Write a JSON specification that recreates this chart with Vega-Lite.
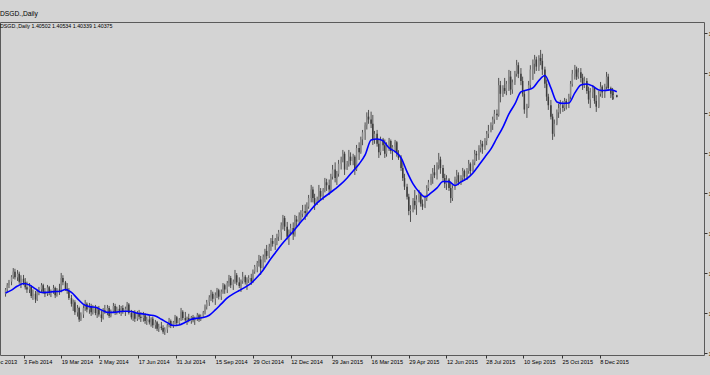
{
"$schema": "https://vega.github.io/schema/vega-lite/v6.json",
"width": 704, "height": 333,
"autosize": {"type": "none"},
"padding": {"left": 0, "top": 22, "right": 6, "bottom": 20},
"background": "#d4d4d4",
"title": {"text": "DSGD.,Daily", "subtitle": "DSGD.,Daily  1.40502 1.40534 1.40339 1.40375", "anchor": "start", "frame": "group", "font": "Liberation Sans", "subtitleFont": "Liberation Sans", "fontSize": 6.7, "subtitleFontSize": 5.3, "fontWeight": "normal", "color": "#000000", "subtitleColor": "#000000", "offset": -7, "subtitlePadding": 6, "dx": 0},
"data": {"values": [
{"d":"2014-01-13","o":1.2660,"h":1.2700,"l":1.2640,"c":1.2690,"m":1.2665},
{"d":"2014-01-15","o":1.2690,"h":1.2735,"l":1.2670,"c":1.2720},
{"d":"2014-01-17","o":1.2720,"h":1.2757,"l":1.2700,"c":1.2745},
{"d":"2014-01-20","o":1.2745,"h":1.2790,"l":1.2720,"c":1.2780,"m":1.2686},
{"d":"2014-01-22","o":1.2780,"h":1.2840,"l":1.2765,"c":1.2815},
{"d":"2014-01-24","o":1.2815,"h":1.2835,"l":1.2760,"c":1.2775},
{"d":"2014-01-27","o":1.2775,"h":1.2826,"l":1.2750,"c":1.2800,"m":1.2714},
{"d":"2014-01-29","o":1.2800,"h":1.2815,"l":1.2730,"c":1.2745},
{"d":"2014-01-31","o":1.2745,"h":1.2790,"l":1.2700,"c":1.2765},
{"d":"2014-02-03","o":1.2765,"h":1.2792,"l":1.2720,"c":1.2740,"m":1.2732},
{"d":"2014-02-05","o":1.2740,"h":1.2770,"l":1.2690,"c":1.2705},
{"d":"2014-02-07","o":1.2705,"h":1.2745,"l":1.2666,"c":1.2690},
{"d":"2014-02-10","o":1.2690,"h":1.2735,"l":1.2665,"c":1.2710,"m":1.2722},
{"d":"2014-02-12","o":1.2710,"h":1.2720,"l":1.2630,"c":1.2645},
{"d":"2014-02-14","o":1.2645,"h":1.2690,"l":1.2617,"c":1.2660},
{"d":"2014-02-17","o":1.2660,"h":1.2680,"l":1.2596,"c":1.2620,"m":1.2694},
{"d":"2014-02-19","o":1.2620,"h":1.2690,"l":1.2610,"c":1.2675},
{"d":"2014-02-21","o":1.2675,"h":1.2708,"l":1.2650,"c":1.2690},
{"d":"2014-02-24","o":1.2690,"h":1.2735,"l":1.2670,"c":1.2720,"m":1.2669},
{"d":"2014-02-26","o":1.2720,"h":1.2730,"l":1.2660,"c":1.2675},
{"d":"2014-02-28","o":1.2675,"h":1.2700,"l":1.2637,"c":1.2660},
{"d":"2014-03-03","o":1.2660,"h":1.2722,"l":1.2645,"c":1.2705,"m":1.2670},
{"d":"2014-03-05","o":1.2705,"h":1.2715,"l":1.2650,"c":1.2665},
{"d":"2014-03-07","o":1.2665,"h":1.2690,"l":1.2637,"c":1.2680},
{"d":"2014-03-10","o":1.2680,"h":1.2722,"l":1.2660,"c":1.2700,"m":1.2675},
{"d":"2014-03-12","o":1.2700,"h":1.2710,"l":1.2630,"c":1.2650},
{"d":"2014-03-14","o":1.2650,"h":1.2700,"l":1.2640,"c":1.2690},
{"d":"2014-03-17","o":1.2690,"h":1.2730,"l":1.2652,"c":1.2680,"m":1.2676},
{"d":"2014-03-19","o":1.2680,"h":1.2806,"l":1.2670,"c":1.2770},
{"d":"2014-03-21","o":1.2770,"h":1.2790,"l":1.2720,"c":1.2740},
{"d":"2014-03-24","o":1.2740,"h":1.2750,"l":1.2680,"c":1.2695,"m":1.2690},
{"d":"2014-03-26","o":1.2695,"h":1.2735,"l":1.2660,"c":1.2680},
{"d":"2014-03-28","o":1.2680,"h":1.2700,"l":1.2617,"c":1.2630},
{"d":"2014-03-31","o":1.2630,"h":1.2652,"l":1.2570,"c":1.2590,"m":1.2670},
{"d":"2014-04-02","o":1.2590,"h":1.2620,"l":1.2540,"c":1.2600},
{"d":"2014-04-04","o":1.2600,"h":1.2615,"l":1.2512,"c":1.2530},
{"d":"2014-04-07","o":1.2530,"h":1.2582,"l":1.2500,"c":1.2560,"m":1.2626},
{"d":"2014-04-09","o":1.2560,"h":1.2570,"l":1.2463,"c":1.2480},
{"d":"2014-04-11","o":1.2480,"h":1.2530,"l":1.2470,"c":1.2515},
{"d":"2014-04-14","o":1.2515,"h":1.2580,"l":1.2491,"c":1.2560,"m":1.2586},
{"d":"2014-04-16","o":1.2560,"h":1.2617,"l":1.2540,"c":1.2590},
{"d":"2014-04-18","o":1.2590,"h":1.2600,"l":1.2530,"c":1.2550},
{"d":"2014-04-21","o":1.2550,"h":1.2596,"l":1.2520,"c":1.2575,"m":1.2570},
{"d":"2014-04-23","o":1.2575,"h":1.2590,"l":1.2505,"c":1.2530},
{"d":"2014-04-25","o":1.2530,"h":1.2580,"l":1.2515,"c":1.2560},
{"d":"2014-04-28","o":1.2560,"h":1.2582,"l":1.2510,"c":1.2525,"m":1.2566},
{"d":"2014-04-30","o":1.2525,"h":1.2570,"l":1.2491,"c":1.2550},
{"d":"2014-05-02","o":1.2550,"h":1.2575,"l":1.2500,"c":1.2515},
{"d":"2014-05-05","o":1.2515,"h":1.2540,"l":1.2463,"c":1.2490,"m":1.2547},
{"d":"2014-05-07","o":1.2490,"h":1.2560,"l":1.2480,"c":1.2545},
{"d":"2014-05-09","o":1.2545,"h":1.2582,"l":1.2520,"c":1.2530},
{"d":"2014-05-12","o":1.2530,"h":1.2582,"l":1.2510,"c":1.2560,"m":1.2530},
{"d":"2014-05-14","o":1.2560,"h":1.2575,"l":1.2491,"c":1.2505},
{"d":"2014-05-16","o":1.2505,"h":1.2550,"l":1.2495,"c":1.2540},
{"d":"2014-05-19","o":1.2540,"h":1.2596,"l":1.2525,"c":1.2575,"m":1.2530},
{"d":"2014-05-21","o":1.2575,"h":1.2590,"l":1.2512,"c":1.2530},
{"d":"2014-05-23","o":1.2530,"h":1.2570,"l":1.2515,"c":1.2555},
{"d":"2014-05-26","o":1.2555,"h":1.2582,"l":1.2520,"c":1.2540,"m":1.2535},
{"d":"2014-05-28","o":1.2540,"h":1.2575,"l":1.2505,"c":1.2560},
{"d":"2014-05-30","o":1.2560,"h":1.2580,"l":1.2520,"c":1.2535},
{"d":"2014-06-02","o":1.2535,"h":1.2570,"l":1.2505,"c":1.2555,"m":1.2538},
{"d":"2014-06-04","o":1.2555,"h":1.2603,"l":1.2540,"c":1.2585},
{"d":"2014-06-06","o":1.2585,"h":1.2595,"l":1.2515,"c":1.2525},
{"d":"2014-06-09","o":1.2525,"h":1.2547,"l":1.2480,"c":1.2495,"m":1.2536},
{"d":"2014-06-11","o":1.2495,"h":1.2540,"l":1.2470,"c":1.2530},
{"d":"2014-06-13","o":1.2530,"h":1.2545,"l":1.2463,"c":1.2485},
{"d":"2014-06-16","o":1.2485,"h":1.2540,"l":1.2470,"c":1.2525,"m":1.2524},
{"d":"2014-06-18","o":1.2525,"h":1.2547,"l":1.2480,"c":1.2500},
{"d":"2014-06-20","o":1.2500,"h":1.2530,"l":1.2463,"c":1.2490},
{"d":"2014-06-23","o":1.2490,"h":1.2533,"l":1.2465,"c":1.2510,"m":1.2519},
{"d":"2014-06-25","o":1.2510,"h":1.2525,"l":1.2450,"c":1.2470},
{"d":"2014-06-27","o":1.2470,"h":1.2500,"l":1.2442,"c":1.2480},
{"d":"2014-06-30","o":1.2480,"h":1.2512,"l":1.2445,"c":1.2460,"m":1.2512},
{"d":"2014-07-02","o":1.2460,"h":1.2495,"l":1.2430,"c":1.2485},
{"d":"2014-07-04","o":1.2485,"h":1.2500,"l":1.2421,"c":1.2440},
{"d":"2014-07-07","o":1.2440,"h":1.2477,"l":1.2415,"c":1.2460,"m":1.2505},
{"d":"2014-07-09","o":1.2460,"h":1.2470,"l":1.2400,"c":1.2415},
{"d":"2014-07-11","o":1.2415,"h":1.2450,"l":1.2393,"c":1.2430},
{"d":"2014-07-14","o":1.2430,"h":1.2463,"l":1.2405,"c":1.2420,"m":1.2482},
{"d":"2014-07-16","o":1.2420,"h":1.2440,"l":1.2380,"c":1.2395},
{"d":"2014-07-18","o":1.2395,"h":1.2425,"l":1.2372,"c":1.2410},
{"d":"2014-07-21","o":1.2410,"h":1.2450,"l":1.2386,"c":1.2440,"m":1.2458},
{"d":"2014-07-23","o":1.2440,"h":1.2491,"l":1.2425,"c":1.2470},
{"d":"2014-07-25","o":1.2470,"h":1.2480,"l":1.2420,"c":1.2435},
{"d":"2014-07-28","o":1.2435,"h":1.2470,"l":1.2421,"c":1.2460,"m":1.2438},
{"d":"2014-07-30","o":1.2460,"h":1.2512,"l":1.2445,"c":1.2495},
{"d":"2014-08-01","o":1.2495,"h":1.2505,"l":1.2440,"c":1.2455},
{"d":"2014-08-04","o":1.2455,"h":1.2490,"l":1.2442,"c":1.2480,"m":1.2442},
{"d":"2014-08-06","o":1.2480,"h":1.2561,"l":1.2470,"c":1.2535},
{"d":"2014-08-08","o":1.2535,"h":1.2545,"l":1.2475,"c":1.2490},
{"d":"2014-08-11","o":1.2490,"h":1.2533,"l":1.2465,"c":1.2475,"m":1.2461},
{"d":"2014-08-13","o":1.2475,"h":1.2500,"l":1.2442,"c":1.2490},
{"d":"2014-08-15","o":1.2490,"h":1.2520,"l":1.2460,"c":1.2470},
{"d":"2014-08-18","o":1.2470,"h":1.2505,"l":1.2450,"c":1.2495,"m":1.2481},
{"d":"2014-08-20","o":1.2495,"h":1.2512,"l":1.2460,"c":1.2475},
{"d":"2014-08-22","o":1.2475,"h":1.2500,"l":1.2442,"c":1.2485},
{"d":"2014-08-25","o":1.2485,"h":1.2526,"l":1.2470,"c":1.2510,"m":1.2489},
{"d":"2014-08-27","o":1.2510,"h":1.2520,"l":1.2463,"c":1.2480},
{"d":"2014-08-29","o":1.2480,"h":1.2515,"l":1.2470,"c":1.2500},
{"d":"2014-09-01","o":1.2500,"h":1.2540,"l":1.2491,"c":1.2530,"m":1.2494},
{"d":"2014-09-03","o":1.2530,"h":1.2585,"l":1.2515,"c":1.2570},
{"d":"2014-09-05","o":1.2570,"h":1.2617,"l":1.2550,"c":1.2600},
{"d":"2014-09-08","o":1.2600,"h":1.2650,"l":1.2575,"c":1.2635,"m":1.2510},
{"d":"2014-09-10","o":1.2635,"h":1.2687,"l":1.2610,"c":1.2660},
{"d":"2014-09-12","o":1.2660,"h":1.2675,"l":1.2600,"c":1.2625},
{"d":"2014-09-15","o":1.2625,"h":1.2670,"l":1.2582,"c":1.2650,"m":1.2547},
{"d":"2014-09-17","o":1.2650,"h":1.2701,"l":1.2630,"c":1.2685},
{"d":"2014-09-19","o":1.2685,"h":1.2695,"l":1.2620,"c":1.2640},
{"d":"2014-09-22","o":1.2640,"h":1.2690,"l":1.2617,"c":1.2675,"m":1.2589},
{"d":"2014-09-24","o":1.2675,"h":1.2735,"l":1.2660,"c":1.2720},
{"d":"2014-09-26","o":1.2720,"h":1.2730,"l":1.2660,"c":1.2690},
{"d":"2014-09-29","o":1.2690,"h":1.2750,"l":1.2665,"c":1.2735,"m":1.2631},
{"d":"2014-10-01","o":1.2735,"h":1.2792,"l":1.2710,"c":1.2770},
{"d":"2014-10-03","o":1.2770,"h":1.2785,"l":1.2700,"c":1.2720},
{"d":"2014-10-06","o":1.2720,"h":1.2760,"l":1.2687,"c":1.2745,"m":1.2659},
{"d":"2014-10-08","o":1.2745,"h":1.2827,"l":1.2730,"c":1.2790},
{"d":"2014-10-10","o":1.2790,"h":1.2805,"l":1.2720,"c":1.2740},
{"d":"2014-10-13","o":1.2740,"h":1.2775,"l":1.2700,"c":1.2715,"m":1.2683},
{"d":"2014-10-15","o":1.2715,"h":1.2760,"l":1.2673,"c":1.2750},
{"d":"2014-10-17","o":1.2750,"h":1.2813,"l":1.2730,"c":1.2780},
{"d":"2014-10-20","o":1.2780,"h":1.2792,"l":1.2725,"c":1.2740,"m":1.2707},
{"d":"2014-10-22","o":1.2740,"h":1.2775,"l":1.2687,"c":1.2760},
{"d":"2014-10-24","o":1.2760,"h":1.2790,"l":1.2735,"c":1.2770},
{"d":"2014-10-27","o":1.2770,"h":1.2800,"l":1.2722,"c":1.2745,"m":1.2735},
{"d":"2014-10-29","o":1.2745,"h":1.2830,"l":1.2735,"c":1.2815},
{"d":"2014-10-31","o":1.2815,"h":1.2862,"l":1.2800,"c":1.2850},
{"d":"2014-11-03","o":1.2850,"h":1.2890,"l":1.2810,"c":1.2875,"m":1.2777},
{"d":"2014-11-05","o":1.2875,"h":1.2932,"l":1.2850,"c":1.2900},
{"d":"2014-11-07","o":1.2900,"h":1.2925,"l":1.2792,"c":1.2840},
{"d":"2014-11-10","o":1.2840,"h":1.2935,"l":1.2830,"c":1.2920,"m":1.2827},
{"d":"2014-11-12","o":1.2920,"h":1.2975,"l":1.2880,"c":1.2960},
{"d":"2014-11-14","o":1.2960,"h":1.3002,"l":1.2900,"c":1.2925},
{"d":"2014-11-17","o":1.2925,"h":1.3010,"l":1.2910,"c":1.2990,"m":1.2890},
{"d":"2014-11-19","o":1.2990,"h":1.3050,"l":1.2960,"c":1.3030},
{"d":"2014-11-21","o":1.3030,"h":1.3072,"l":1.2990,"c":1.3010},
{"d":"2014-11-24","o":1.3010,"h":1.3050,"l":1.2967,"c":1.3040,"m":1.2946},
{"d":"2014-11-26","o":1.3040,"h":1.3080,"l":1.3000,"c":1.3060},
{"d":"2014-11-28","o":1.3060,"h":1.3107,"l":1.3030,"c":1.3090},
{"d":"2014-12-01","o":1.3090,"h":1.3160,"l":1.3037,"c":1.3140,"m":1.3002},
{"d":"2014-12-03","o":1.3140,"h":1.3212,"l":1.3110,"c":1.3190},
{"d":"2014-12-05","o":1.3190,"h":1.3205,"l":1.3100,"c":1.3130},
{"d":"2014-12-08","o":1.3130,"h":1.3163,"l":1.3040,"c":1.3060,"m":1.3051},
{"d":"2014-12-10","o":1.3060,"h":1.3110,"l":1.3002,"c":1.3095},
{"d":"2014-12-12","o":1.3095,"h":1.3150,"l":1.3070,"c":1.3120},
{"d":"2014-12-15","o":1.3120,"h":1.3160,"l":1.3037,"c":1.3075,"m":1.3096},
{"d":"2014-12-17","o":1.3075,"h":1.3212,"l":1.3060,"c":1.3180},
{"d":"2014-12-19","o":1.3180,"h":1.3205,"l":1.3130,"c":1.3165},
{"d":"2014-12-22","o":1.3165,"h":1.3230,"l":1.3140,"c":1.3210,"m":1.3149},
{"d":"2014-12-24","o":1.3210,"h":1.3245,"l":1.3170,"c":1.3220},
{"d":"2014-12-26","o":1.3220,"h":1.3282,"l":1.3195,"c":1.3240},
{"d":"2014-12-29","o":1.3240,"h":1.3285,"l":1.3177,"c":1.3225,"m":1.3198},
{"d":"2014-12-31","o":1.3225,"h":1.3300,"l":1.3200,"c":1.3270},
{"d":"2015-01-02","o":1.3270,"h":1.3352,"l":1.3255,"c":1.3330},
{"d":"2015-01-05","o":1.3330,"h":1.3422,"l":1.3300,"c":1.3390,"m":1.3250},
{"d":"2015-01-07","o":1.3390,"h":1.3410,"l":1.3300,"c":1.3330},
{"d":"2015-01-09","o":1.3330,"h":1.3360,"l":1.3247,"c":1.3290},
{"d":"2015-01-12","o":1.3290,"h":1.3340,"l":1.3282,"c":1.3320,"m":1.3296},
{"d":"2015-01-14","o":1.3320,"h":1.3422,"l":1.3300,"c":1.3380},
{"d":"2015-01-16","o":1.3380,"h":1.3400,"l":1.3310,"c":1.3340},
{"d":"2015-01-19","o":1.3340,"h":1.3400,"l":1.3317,"c":1.3390,"m":1.3331},
{"d":"2015-01-21","o":1.3390,"h":1.3471,"l":1.3370,"c":1.3440},
{"d":"2015-01-23","o":1.3440,"h":1.3465,"l":1.3380,"c":1.3420},
{"d":"2015-01-26","o":1.3420,"h":1.3460,"l":1.3352,"c":1.3390,"m":1.3362},
{"d":"2015-01-28","o":1.3390,"h":1.3500,"l":1.3370,"c":1.3480},
{"d":"2015-01-30","o":1.3480,"h":1.3562,"l":1.3460,"c":1.3530},
{"d":"2015-02-02","o":1.3530,"h":1.3580,"l":1.3440,"c":1.3470,"m":1.3394},
{"d":"2015-02-04","o":1.3470,"h":1.3520,"l":1.3422,"c":1.3500},
{"d":"2015-02-06","o":1.3500,"h":1.3597,"l":1.3480,"c":1.3570},
{"d":"2015-02-09","o":1.3570,"h":1.3620,"l":1.3530,"c":1.3600,"m":1.3429},
{"d":"2015-02-11","o":1.3600,"h":1.3667,"l":1.3580,"c":1.3640},
{"d":"2015-02-13","o":1.3640,"h":1.3655,"l":1.3492,"c":1.3530},
{"d":"2015-02-16","o":1.3530,"h":1.3590,"l":1.3527,"c":1.3570,"m":1.3471},
{"d":"2015-02-18","o":1.3570,"h":1.3667,"l":1.3550,"c":1.3620},
{"d":"2015-02-20","o":1.3620,"h":1.3650,"l":1.3560,"c":1.3590},
{"d":"2015-02-23","o":1.3590,"h":1.3640,"l":1.3560,"c":1.3620,"m":1.3520},
{"d":"2015-02-25","o":1.3620,"h":1.3630,"l":1.3492,"c":1.3530},
{"d":"2015-02-27","o":1.3530,"h":1.3702,"l":1.3520,"c":1.3680},
{"d":"2015-03-02","o":1.3680,"h":1.3720,"l":1.3597,"c":1.3650,"m":1.3569},
{"d":"2015-03-04","o":1.3650,"h":1.3760,"l":1.3640,"c":1.3740},
{"d":"2015-03-06","o":1.3740,"h":1.3807,"l":1.3700,"c":1.3790},
{"d":"2015-03-09","o":1.3790,"h":1.3860,"l":1.3737,"c":1.3840,"m":1.3632},
{"d":"2015-03-11","o":1.3840,"h":1.3930,"l":1.3810,"c":1.3900},
{"d":"2015-03-13","o":1.3900,"h":1.3947,"l":1.3850,"c":1.3880},
{"d":"2015-03-16","o":1.3880,"h":1.3935,"l":1.3820,"c":1.3850,"m":1.3737},
{"d":"2015-03-18","o":1.3850,"h":1.3912,"l":1.3702,"c":1.3740},
{"d":"2015-03-20","o":1.3740,"h":1.3800,"l":1.3710,"c":1.3780},
{"d":"2015-03-23","o":1.3780,"h":1.3807,"l":1.3690,"c":1.3710,"m":1.3744},
{"d":"2015-03-25","o":1.3710,"h":1.3740,"l":1.3611,"c":1.3650},
{"d":"2015-03-27","o":1.3650,"h":1.3760,"l":1.3630,"c":1.3740},
{"d":"2015-03-30","o":1.3740,"h":1.3751,"l":1.3660,"c":1.3700,"m":1.3730},
{"d":"2015-04-01","o":1.3700,"h":1.3740,"l":1.3611,"c":1.3640},
{"d":"2015-04-03","o":1.3640,"h":1.3720,"l":1.3620,"c":1.3700},
{"d":"2015-04-06","o":1.3700,"h":1.3751,"l":1.3660,"c":1.3730,"m":1.3681},
{"d":"2015-04-08","o":1.3730,"h":1.3740,"l":1.3640,"c":1.3660},
{"d":"2015-04-10","o":1.3660,"h":1.3700,"l":1.3597,"c":1.3690},
{"d":"2015-04-13","o":1.3690,"h":1.3737,"l":1.3650,"c":1.3720,"m":1.3655},
{"d":"2015-04-15","o":1.3720,"h":1.3730,"l":1.3620,"c":1.3640},
{"d":"2015-04-17","o":1.3640,"h":1.3665,"l":1.3597,"c":1.3610},
{"d":"2015-04-20","o":1.3610,"h":1.3630,"l":1.3520,"c":1.3540,"m":1.3611},
{"d":"2015-04-22","o":1.3540,"h":1.3580,"l":1.3450,"c":1.3470},
{"d":"2015-04-24","o":1.3470,"h":1.3500,"l":1.3387,"c":1.3410},
{"d":"2015-04-27","o":1.3410,"h":1.3430,"l":1.3320,"c":1.3340,"m":1.3513},
{"d":"2015-04-29","o":1.3340,"h":1.3360,"l":1.3210,"c":1.3240},
{"d":"2015-05-01","o":1.3240,"h":1.3280,"l":1.3163,"c":1.3250},
{"d":"2015-05-04","o":1.3250,"h":1.3330,"l":1.3230,"c":1.3310,"m":1.3429},
{"d":"2015-05-06","o":1.3310,"h":1.3387,"l":1.3250,"c":1.3280},
{"d":"2015-05-08","o":1.3280,"h":1.3350,"l":1.3212,"c":1.3320},
{"d":"2015-05-11","o":1.3320,"h":1.3387,"l":1.3300,"c":1.3360,"m":1.3373},
{"d":"2015-05-13","o":1.3360,"h":1.3370,"l":1.3270,"c":1.3290},
{"d":"2015-05-15","o":1.3290,"h":1.3320,"l":1.3247,"c":1.3270},
{"d":"2015-05-18","o":1.3270,"h":1.3350,"l":1.3260,"c":1.3330,"m":1.3338},
{"d":"2015-05-20","o":1.3330,"h":1.3420,"l":1.3310,"c":1.3400},
{"d":"2015-05-22","o":1.3400,"h":1.3457,"l":1.3380,"c":1.3440},
{"d":"2015-05-25","o":1.3440,"h":1.3500,"l":1.3420,"c":1.3480,"m":1.3366},
{"d":"2015-05-27","o":1.3480,"h":1.3540,"l":1.3430,"c":1.3510},
{"d":"2015-05-29","o":1.3510,"h":1.3562,"l":1.3470,"c":1.3490},
{"d":"2015-06-01","o":1.3490,"h":1.3580,"l":1.3460,"c":1.3560,"m":1.3401},
{"d":"2015-06-03","o":1.3560,"h":1.3646,"l":1.3530,"c":1.3600},
{"d":"2015-06-05","o":1.3600,"h":1.3620,"l":1.3500,"c":1.3540},
{"d":"2015-06-08","o":1.3540,"h":1.3562,"l":1.3450,"c":1.3470,"m":1.3446},
{"d":"2015-06-10","o":1.3470,"h":1.3500,"l":1.3400,"c":1.3430},
{"d":"2015-06-12","o":1.3430,"h":1.3490,"l":1.3387,"c":1.3460},
{"d":"2015-06-15","o":1.3460,"h":1.3470,"l":1.3380,"c":1.3400,"m":1.3445},
{"d":"2015-06-17","o":1.3400,"h":1.3440,"l":1.3296,"c":1.3330},
{"d":"2015-06-19","o":1.3330,"h":1.3420,"l":1.3310,"c":1.3400},
{"d":"2015-06-22","o":1.3400,"h":1.3480,"l":1.3387,"c":1.3460,"m":1.3418},
{"d":"2015-06-24","o":1.3460,"h":1.3527,"l":1.3430,"c":1.3490},
{"d":"2015-06-26","o":1.3490,"h":1.3510,"l":1.3420,"c":1.3440},
{"d":"2015-06-29","o":1.3440,"h":1.3490,"l":1.3422,"c":1.3470,"m":1.3443},
{"d":"2015-07-01","o":1.3470,"h":1.3541,"l":1.3450,"c":1.3520},
{"d":"2015-07-03","o":1.3520,"h":1.3530,"l":1.3450,"c":1.3480},
{"d":"2015-07-06","o":1.3480,"h":1.3540,"l":1.3457,"c":1.3520,"m":1.3467},
{"d":"2015-07-08","o":1.3520,"h":1.3597,"l":1.3500,"c":1.3570},
{"d":"2015-07-10","o":1.3570,"h":1.3580,"l":1.3490,"c":1.3520},
{"d":"2015-07-13","o":1.3520,"h":1.3600,"l":1.3510,"c":1.3580,"m":1.3506},
{"d":"2015-07-15","o":1.3580,"h":1.3667,"l":1.3560,"c":1.3640},
{"d":"2015-07-17","o":1.3640,"h":1.3660,"l":1.3590,"c":1.3630},
{"d":"2015-07-20","o":1.3630,"h":1.3700,"l":1.3597,"c":1.3680,"m":1.3562},
{"d":"2015-07-22","o":1.3680,"h":1.3737,"l":1.3650,"c":1.3710},
{"d":"2015-07-24","o":1.3710,"h":1.3730,"l":1.3640,"c":1.3690},
{"d":"2015-07-27","o":1.3690,"h":1.3750,"l":1.3667,"c":1.3730,"m":1.3618},
{"d":"2015-07-29","o":1.3730,"h":1.3800,"l":1.3700,"c":1.3780},
{"d":"2015-07-31","o":1.3780,"h":1.3842,"l":1.3750,"c":1.3800},
{"d":"2015-08-03","o":1.3800,"h":1.3860,"l":1.3790,"c":1.3840,"m":1.3674},
{"d":"2015-08-05","o":1.3840,"h":1.3900,"l":1.3807,"c":1.3880},
{"d":"2015-08-07","o":1.3880,"h":1.3947,"l":1.3850,"c":1.3920},
{"d":"2015-08-10","o":1.3920,"h":1.3950,"l":1.3877,"c":1.3910,"m":1.3751},
{"d":"2015-08-12","o":1.3910,"h":1.4171,"l":1.3900,"c":1.4120},
{"d":"2015-08-14","o":1.4120,"h":1.4150,"l":1.4000,"c":1.4060},
{"d":"2015-08-17","o":1.4060,"h":1.4120,"l":1.4038,"c":1.4100,"m":1.3827},
{"d":"2015-08-19","o":1.4100,"h":1.4171,"l":1.4060,"c":1.4080},
{"d":"2015-08-21","o":1.4080,"h":1.4150,"l":1.4050,"c":1.4130},
{"d":"2015-08-24","o":1.4130,"h":1.4227,"l":1.4080,"c":1.4180,"m":1.3919},
{"d":"2015-08-26","o":1.4180,"h":1.4220,"l":1.4052,"c":1.4090},
{"d":"2015-08-28","o":1.4090,"h":1.4160,"l":1.4060,"c":1.4140},
{"d":"2015-08-31","o":1.4140,"h":1.4220,"l":1.4122,"c":1.4200,"m":1.3989},
{"d":"2015-09-02","o":1.4200,"h":1.4297,"l":1.4180,"c":1.4260},
{"d":"2015-09-04","o":1.4260,"h":1.4280,"l":1.4170,"c":1.4200},
{"d":"2015-09-07","o":1.4200,"h":1.4240,"l":1.4120,"c":1.4150,"m":1.4073},
{"d":"2015-09-09","o":1.4150,"h":1.4180,"l":1.4040,"c":1.4060},
{"d":"2015-09-11","o":1.4060,"h":1.4080,"l":1.3920,"c":1.3950},
{"d":"2015-09-14","o":1.3950,"h":1.3990,"l":1.3891,"c":1.3970,"m":1.4087},
{"d":"2015-09-16","o":1.3970,"h":1.4150,"l":1.3960,"c":1.4120},
{"d":"2015-09-18","o":1.4120,"h":1.4260,"l":1.4100,"c":1.4230},
{"d":"2015-09-21","o":1.4230,"h":1.4300,"l":1.4157,"c":1.4270,"m":1.4101},
{"d":"2015-09-23","o":1.4270,"h":1.4332,"l":1.4200,"c":1.4300},
{"d":"2015-09-25","o":1.4300,"h":1.4320,"l":1.4220,"c":1.4250},
{"d":"2015-09-28","o":1.4250,"h":1.4330,"l":1.4220,"c":1.4310,"m":1.4153},
{"d":"2015-09-30","o":1.4310,"h":1.4367,"l":1.4260,"c":1.4290},
{"d":"2015-10-02","o":1.4290,"h":1.4340,"l":1.4192,"c":1.4230},
{"d":"2015-10-05","o":1.4230,"h":1.4250,"l":1.4100,"c":1.4130,"m":1.4188},
{"d":"2015-10-07","o":1.4130,"h":1.4160,"l":1.4010,"c":1.4040},
{"d":"2015-10-09","o":1.4040,"h":1.4060,"l":1.3947,"c":1.3980},
{"d":"2015-10-12","o":1.3980,"h":1.4017,"l":1.3880,"c":1.3900,"m":1.4101},
{"d":"2015-10-14","o":1.3900,"h":1.3920,"l":1.3737,"c":1.3780},
{"d":"2015-10-16","o":1.3780,"h":1.3880,"l":1.3760,"c":1.3850},
{"d":"2015-10-19","o":1.3850,"h":1.3950,"l":1.3840,"c":1.3930,"m":1.4003},
{"d":"2015-10-21","o":1.3930,"h":1.3990,"l":1.3891,"c":1.3960},
{"d":"2015-10-23","o":1.3960,"h":1.4017,"l":1.3920,"c":1.3980},
{"d":"2015-10-26","o":1.3980,"h":1.4010,"l":1.3933,"c":1.3960,"m":1.3993},
{"d":"2015-10-28","o":1.3960,"h":1.4031,"l":1.3940,"c":1.4010},
{"d":"2015-10-30","o":1.4010,"h":1.4025,"l":1.3950,"c":1.3990},
{"d":"2015-11-02","o":1.3990,"h":1.4060,"l":1.3960,"c":1.4040,"m":1.3996},
{"d":"2015-11-04","o":1.4040,"h":1.4150,"l":1.4020,"c":1.4130},
{"d":"2015-11-06","o":1.4130,"h":1.4227,"l":1.4110,"c":1.4200},
{"d":"2015-11-09","o":1.4200,"h":1.4262,"l":1.4160,"c":1.4230,"m":1.4066},
{"d":"2015-11-11","o":1.4230,"h":1.4250,"l":1.4157,"c":1.4180},
{"d":"2015-11-13","o":1.4180,"h":1.4240,"l":1.4165,"c":1.4210},
{"d":"2015-11-16","o":1.4210,"h":1.4240,"l":1.4140,"c":1.4170,"m":1.4122},
{"d":"2015-11-18","o":1.4170,"h":1.4200,"l":1.4087,"c":1.4120},
{"d":"2015-11-20","o":1.4120,"h":1.4180,"l":1.4100,"c":1.4150},
{"d":"2015-11-23","o":1.4150,"h":1.4170,"l":1.4060,"c":1.4080,"m":1.4129},
{"d":"2015-11-25","o":1.4080,"h":1.4110,"l":1.3990,"c":1.4020},
{"d":"2015-11-27","o":1.4020,"h":1.4100,"l":1.3960,"c":1.4070},
{"d":"2015-11-30","o":1.4070,"h":1.4122,"l":1.4030,"c":1.4100,"m":1.4113},
{"d":"2015-12-02","o":1.4100,"h":1.4110,"l":1.3990,"c":1.4010},
{"d":"2015-12-04","o":1.4010,"h":1.4050,"l":1.3933,"c":1.3970},
{"d":"2015-12-07","o":1.3970,"h":1.4080,"l":1.3960,"c":1.4060,"m":1.4087},
{"d":"2015-12-09","o":1.4060,"h":1.4143,"l":1.4040,"c":1.4110},
{"d":"2015-12-11","o":1.4110,"h":1.4120,"l":1.4031,"c":1.4070},
{"d":"2015-12-14","o":1.4070,"h":1.4130,"l":1.4031,"c":1.4110,"m":1.4083},
{"d":"2015-12-16","o":1.4110,"h":1.4213,"l":1.4090,"c":1.4180},
{"d":"2015-12-18","o":1.4180,"h":1.4200,"l":1.4080,"c":1.4100},
{"d":"2015-12-21","o":1.4100,"h":1.4110,"l":1.4030,"c":1.4060,"m":1.4088},
{"d":"2015-12-23","o":1.4060,"h":1.4101,"l":1.4017,"c":1.4040},
{"d":"2015-12-24","o":1.4040,"h":1.4080,"l":1.4020,"c":1.4050},
{"d":"2015-12-28","o":1.40502,"h":1.40534,"l":1.40339,"c":1.40375,"m":1.4074}
]},
"encoding": {
  "x": {"field": "d", "type": "temporal",
    "scale": {"type": "utc", "domain": [{"year": 2013, "month": 12, "date": 20, "utc": true}, {"year": 2016, "month": 4, "date": 2, "utc": true}], "range": [-20, 704]},
    "axis": {"orient": "bottom", "title": null, "grid": false, "domain": false, "ticks": true, "tickSize": 3, "tickColor": "#333333",
      "labelFont": "Liberation Sans", "labelFontSize": 5.6, "labelColor": "#000000", "labelAlign": "left", "labelBaseline": "top", "labelPadding": 1, "labelOverlap": false, "labelFlush": false, "labelBound": false,
      "format": "%-d %b %Y",
      "values": [
        {"year": 2013, "month": 12, "date": 20, "utc": true},
        {"year": 2014, "month": 2, "date": 3, "utc": true},
        {"year": 2014, "month": 3, "date": 19, "utc": true},
        {"year": 2014, "month": 5, "date": 2, "utc": true},
        {"year": 2014, "month": 6, "date": 17, "utc": true},
        {"year": 2014, "month": 7, "date": 31, "utc": true},
        {"year": 2014, "month": 9, "date": 15, "utc": true},
        {"year": 2014, "month": 10, "date": 29, "utc": true},
        {"year": 2014, "month": 12, "date": 12, "utc": true},
        {"year": 2015, "month": 1, "date": 29, "utc": true},
        {"year": 2015, "month": 3, "date": 16, "utc": true},
        {"year": 2015, "month": 4, "date": 29, "utc": true},
        {"year": 2015, "month": 6, "date": 12, "utc": true},
        {"year": 2015, "month": 7, "date": 28, "utc": true},
        {"year": 2015, "month": 9, "date": 10, "utc": true},
        {"year": 2015, "month": 10, "date": 25, "utc": true},
        {"year": 2015, "month": 12, "date": 8, "utc": true}
      ]}
  }
},
"layer": [
  {"mark": {"type": "rule", "color": "#505050", "strokeWidth": 1},
   "encoding": {
     "y": {"field": "l", "type": "quantitative",
       "scale": {"domain": [1.22315, 1.45625], "zero": false, "nice": false},
       "axis": {"orient": "right", "title": null, "grid": false, "domain": false, "tickSize": 3, "tickColor": "#333333",
         "labelFont": "Liberation Sans", "labelFontSize": 6, "labelColor": "#000000", "labelPadding": 1, "labelAlign": "left", "format": ".4f", "labelOverlap": false,
         "values": [1.44855, 1.43455, 1.42055, 1.40655, 1.39255, 1.37855, 1.36455, 1.35055, 1.33655, 1.32255, 1.30855, 1.29455, 1.28055, 1.26655, 1.25255, 1.23855, 1.22455]}},
     "y2": {"field": "h"}}},
  {"mark": {"type": "bar", "width": 1.5},
   "encoding": {
     "y": {"field": "o", "type": "quantitative"},
     "y2": {"field": "c"},
     "color": {"condition": {"test": "datum.c >= datum.o", "value": "#8a8a8a"}, "value": "#3c3c3c"}}},
  {"transform": [{"filter": "isValid(datum.m)"}],
   "mark": {"type": "line", "color": "#0000ff", "strokeWidth": 1.6, "interpolate": "monotone"},
   "encoding": {"y": {"field": "m", "type": "quantitative"}}}
],
"config": {"view": {"stroke": "#5a5a5a", "strokeWidth": 1}}
}
